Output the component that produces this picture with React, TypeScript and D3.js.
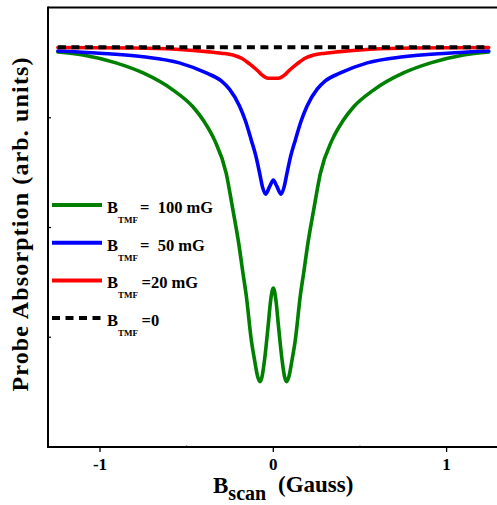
import React from "react";
import * as d3 from "d3";

// ---- data ----
const xTicks = [-1, 0, 1];
const xTickLabels = ["-1", "0", "1"];
const xMinorTicks = [-0.5, 0.5];
const yMinorTicks = [0.25, 0.5, 0.75];

const greenX = [-1.243, -1.098, -0.908, -0.751, -0.578, -0.464, -0.4, -0.339, -0.272, -0.233, -0.2, -0.175, -0.156, -0.127, -0.108, -0.09, -0.077, -0.065, -0.05, -0.03, -0.015, 0, 0.015, 0.03, 0.05, 0.065, 0.077, 0.09, 0.108, 0.127, 0.156, 0.175, 0.2, 0.233, 0.272, 0.339, 0.4, 0.464, 0.578, 0.751, 0.908, 1.098, 1.243];
const greenY = [0.900, 0.893, 0.875, 0.852, 0.813, 0.775, 0.742, 0.699, 0.624, 0.540, 0.465, 0.396, 0.345, 0.244, 0.198, 0.160, 0.149, 0.160, 0.200, 0.275, 0.335, 0.362, 0.335, 0.275, 0.200, 0.160, 0.149, 0.160, 0.198, 0.244, 0.345, 0.396, 0.465, 0.540, 0.624, 0.699, 0.742, 0.775, 0.813, 0.852, 0.875, 0.893, 0.900];

const blueX = [-1.243, -1.004, -0.751, -0.542, -0.387, -0.3, -0.253, -0.195, -0.16, -0.127, -0.1, -0.079, -0.062, -0.045, -0.02, 0, 0.02, 0.045, 0.062, 0.079, 0.1, 0.127, 0.16, 0.195, 0.253, 0.3, 0.387, 0.542, 0.751, 1.004, 1.243];
const blueY = [0.902, 0.897, 0.889, 0.875, 0.852, 0.834, 0.815, 0.777, 0.742, 0.699, 0.662, 0.624, 0.592, 0.576, 0.594, 0.608, 0.594, 0.576, 0.592, 0.624, 0.662, 0.699, 0.742, 0.777, 0.815, 0.834, 0.852, 0.875, 0.889, 0.897, 0.902];

const redX = [-1.243, -0.8, -0.56, -0.368, -0.3, -0.233, -0.18, -0.135, -0.09, -0.06, -0.03, 0, 0.03, 0.06, 0.09, 0.135, 0.18, 0.233, 0.3, 0.368, 0.56, 0.8, 1.243];
const redY = [0.910, 0.909, 0.906, 0.900, 0.897, 0.893, 0.885, 0.872, 0.857, 0.846, 0.840, 0.840, 0.840, 0.846, 0.857, 0.872, 0.885, 0.893, 0.897, 0.900, 0.906, 0.909, 0.910];

const blackX = [-1.243, 1.243];
const blackY = [0.9105, 0.9105];

const seriesNames = ["100 mG", "50 mG", "20 mG", "0"];
const seriesColors = ["#008000", "#0000ff", "#ff0000", "#000000"];

const FONT = "'Liberation Serif', 'Times New Roman', serif";

export default function App() {
  const W = 497, H = 505;
  const x = d3.scaleLinear().domain([-1.3, 1.3]).range([48, 498.6]);
  const y = d3.scaleLinear().domain([0, 1]).range([447, 8]);

  const line = d3
    .line<[number, number]>()
    .x((d) => x(d[0]))
    .y((d) => y(d[1]))
    .curve(d3.curveMonotoneX);

  const zip = (a: number[], b: number[]) => a.map((v, i) => [v, b[i]] as [number, number]);
  const series = [
    { xs: greenX, ys: greenY },
    { xs: blueX, ys: blueY },
    { xs: redX, ys: redY },
    { xs: blackX, ys: blackY },
  ];

  const legendY = [205, 242.7, 280.4, 318.1];
  const legendEqX = [140, 140, 141.5, 141.5];
  const legendText = ["=\u00a0 100 mG", "=\u00a0 50 mG", "=20 mG", "=0"];

  return (
    <svg
      width={W}
      height={H}
      style={{ position: "absolute", left: 0, top: 0, background: "#fff" }}
      fontFamily={FONT}
    >
      {/* curves */}
      {series.map((s, i) => (
        <path
          key={i}
          d={line(zip(s.xs, s.ys)) || ""}
          fill="none"
          stroke={seriesColors[i]}
          strokeWidth={i === 3 ? 4 : 3.6}
          strokeDasharray={i === 3 ? "8 5.5" : undefined}
          strokeLinecap={i === 3 ? "butt" : "round"}
        />
      ))}

      {/* frame */}
      <line x1={48} y1={7.5} x2={497} y2={7.5} stroke="#000" strokeWidth={2} />
      <line x1={48} y1={6.5} x2={48} y2={448} stroke="#000" strokeWidth={2} />
      <line x1={47} y1={447} x2={497} y2={447} stroke="#000" strokeWidth={2} />

      {/* x ticks */}
      {xTicks.map((t, i) => (
        <g key={t}>
          <line x1={x(t)} y1={447} x2={x(t)} y2={452} stroke="#000" strokeWidth={1.3} />
          <text x={x(t)} y={470} textAnchor="middle" fontSize={17} fontWeight="bold">
            {xTickLabels[i]}
          </text>
        </g>
      ))}
      {xMinorTicks.map((t) => (
        <line key={t} x1={x(t)} y1={447} x2={x(t)} y2={445} stroke="#000" strokeWidth={1} opacity={0.4} />
      ))}
      {yMinorTicks.map((t) => (
        <line key={t} x1={48} y1={y(t)} x2={51} y2={y(t)} stroke="#000" strokeWidth={1.2} />
      ))}

      {/* axis titles */}
      <text x={213} y={493} fontSize={23} fontWeight="bold">
        B
        <tspan dy={7} fontSize={20}>scan</tspan>
      </text>
      <text x={278} y={492} fontSize={23} fontWeight="bold">(Gauss)</text>

      <text
        transform={`translate(28, ${224.5}) rotate(-90)`}
        textAnchor="middle"
        fontSize={24}
        fontWeight="bold"
        textLength={334}
        lengthAdjust="spacing"
      >
        Probe Absorption (arb. units)
      </text>

      {/* legend */}
      {seriesNames.map((n, i) => (
        <g key={n}>
          <line
            x1={52}
            x2={102}
            y1={legendY[i]}
            y2={legendY[i]}
            stroke={seriesColors[i]}
            strokeWidth={4}
            strokeDasharray={i === 3 ? "8 5.5" : undefined}
          />
          <text x={107} y={legendY[i] + 8} fontSize={16.5} fontWeight="bold">B</text>
          <text x={118} y={legendY[i] + 18} fontSize={9} fontWeight="bold">TMF</text>
          <text x={legendEqX[i]} y={legendY[i] + 8} fontSize={16.5} fontWeight="bold">
            {legendText[i]}
          </text>
        </g>
      ))}
    </svg>
  );
}
